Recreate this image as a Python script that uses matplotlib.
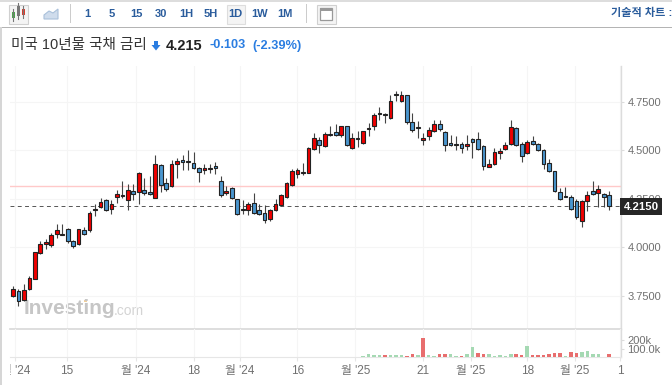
import numpy as np
import matplotlib
matplotlib.use('Agg')
import matplotlib.pyplot as plt
from matplotlib.patches import Rectangle, Polygon
from matplotlib.transforms import Bbox

plt.rcParams['font.family'] = ['Liberation Sans', 'Noto Sans CJK KR', 'DejaVu Sans']

W, H = 672, 385

# 일봉 데이터
opens = [3.747, 3.775, 3.729, 3.784, 3.835, 3.973, 4.016, 4.013, 4.068, 4.066,
         4.096, 4.034, 4.018, 4.087, 4.088, 4.192, 4.208, 4.245, 4.200, 4.259,
         4.264, 4.244, 4.292, 4.287, 4.297, 4.287, 4.256, 4.423, 4.333, 4.318,
         4.431, 4.450, 4.447, 4.436, 4.409, 4.400, 4.405, 4.421, 4.340, 4.282,
         4.305, 4.248, 4.200, 4.194, 4.228, 4.192, 4.178, 4.145, 4.194, 4.220,
         4.259, 4.323, 4.381, 4.384, 4.385, 4.509, 4.553, 4.522, 4.581, 4.597,
         4.581, 4.628, 4.514, 4.566, 4.540, 4.612, 4.628, 4.693, 4.689, 4.667,
         4.794, 4.755, 4.786, 4.648, 4.620, 4.553, 4.576, 4.603, 4.636, 4.595,
         4.540, 4.531, 4.536, 4.522, 4.560, 4.558, 4.522, 4.417, 4.428, 4.488,
         4.509, 4.535, 4.617, 4.535, 4.488, 4.548, 4.531, 4.504, 4.436, 4.392,
         4.287, 4.265, 4.259, 4.240, 4.138, 4.237, 4.292, 4.278, 4.273, 4.271]
highs = [3.801, 3.787, 3.812, 3.854, 3.978, 4.030, 4.044, 4.073, 4.118, 4.118,
         4.101, 4.039, 4.096, 4.104, 4.190, 4.225, 4.257, 4.249, 4.244, 4.297,
         4.340, 4.328, 4.328, 4.388, 4.359, 4.366, 4.479, 4.428, 4.359, 4.452,
         4.462, 4.479, 4.500, 4.490, 4.414, 4.431, 4.431, 4.440, 4.366, 4.319,
         4.310, 4.252, 4.245, 4.233, 4.279, 4.225, 4.216, 4.199, 4.252, 4.276,
         4.336, 4.405, 4.411, 4.436, 4.517, 4.591, 4.569, 4.595, 4.629, 4.638,
         4.629, 4.629, 4.589, 4.600, 4.603, 4.643, 4.695, 4.727, 4.693, 4.789,
         4.805, 4.805, 4.789, 4.693, 4.651, 4.589, 4.620, 4.659, 4.659, 4.600,
         4.581, 4.577, 4.543, 4.581, 4.564, 4.595, 4.526, 4.457, 4.514, 4.514,
         4.543, 4.660, 4.620, 4.543, 4.555, 4.574, 4.538, 4.507, 4.457, 4.395,
         4.307, 4.314, 4.268, 4.251, 4.242, 4.293, 4.345, 4.324, 4.279, 4.293]
lows = [3.742, 3.696, 3.725, 3.782, 3.834, 3.966, 3.992, 4.004, 4.049, 4.061,
        4.023, 3.994, 4.014, 4.063, 4.078, 4.163, 4.204, 4.185, 4.173, 4.231,
        4.256, 4.195, 4.242, 4.225, 4.268, 4.271, 4.254, 4.285, 4.293, 4.310,
        4.359, 4.397, 4.397, 4.405, 4.336, 4.380, 4.383, 4.380, 4.262, 4.268,
        4.251, 4.169, 4.173, 4.169, 4.173, 4.169, 4.125, 4.138, 4.185, 4.212,
        4.256, 4.319, 4.357, 4.371, 4.383, 4.505, 4.486, 4.517, 4.577, 4.577,
        4.569, 4.522, 4.509, 4.517, 4.535, 4.574, 4.607, 4.659, 4.641, 4.664,
        4.755, 4.749, 4.638, 4.595, 4.566, 4.526, 4.555, 4.598, 4.603, 4.496,
        4.521, 4.500, 4.486, 4.500, 4.462, 4.505, 4.400, 4.414, 4.424, 4.457,
        4.504, 4.529, 4.524, 4.443, 4.483, 4.526, 4.496, 4.405, 4.390, 4.287,
        4.245, 4.259, 4.194, 4.147, 4.104, 4.190, 4.268, 4.207, 4.207, 4.194]
closes = [3.784, 3.724, 3.780, 3.843, 3.975, 4.018, 4.028, 4.065, 4.087, 4.069,
          4.034, 4.008, 4.092, 4.068, 4.178, 4.200, 4.236, 4.194, 4.226, 4.273,
          4.269, 4.296, 4.276, 4.383, 4.282, 4.276, 4.428, 4.323, 4.300, 4.428,
          4.445, 4.442, 4.442, 4.411, 4.390, 4.409, 4.412, 4.412, 4.269, 4.292,
          4.256, 4.173, 4.192, 4.223, 4.178, 4.173, 4.142, 4.194, 4.225, 4.268,
          4.333, 4.392, 4.400, 4.389, 4.514, 4.562, 4.527, 4.586, 4.586, 4.579,
          4.628, 4.526, 4.567, 4.558, 4.600, 4.617, 4.681, 4.690, 4.684, 4.758,
          4.786, 4.789, 4.648, 4.605, 4.617, 4.567, 4.608, 4.639, 4.610, 4.527,
          4.527, 4.528, 4.514, 4.536, 4.545, 4.509, 4.419, 4.431, 4.490, 4.496,
          4.529, 4.620, 4.526, 4.473, 4.543, 4.531, 4.502, 4.428, 4.395, 4.292,
          4.248, 4.261, 4.197, 4.154, 4.237, 4.271, 4.273, 4.300, 4.259, 4.215]

# 거래량은 뒤쪽 46개 봉에만 있음 (단위 k)
vol_first = 64
volumes = [8, 32, 20, 20, 20, 20, 20, 20, 12, 32, 20, 232, 20, 8, 32, 32, 32, 12, 12, 32,
           120, 44, 32, 32, 16, 24, 8, 40, 40, 20, 128, 28, 20, 20, 32, 52, 44, 12, 56, 44,
           64, 72, 40, 32, 0, 40]
vol_dirs = list('ggggrgggrrgrggrrggrggrrggggg'
                'rrgrrrrrrgrrgggggr')

last_price = 4.215
prev_close = 4.318
price_ticks = [3.75, 4.0, 4.25, 4.5, 4.75]
price_labels = ['3.7500', '4.0000', '4.2500', '4.5000', '4.7500']
vol_ticks = [100, 200]
vol_labels = ['100.0k', '200k']
date_ticks = [0.4, 9.9, 22.5, 33, 41.5, 52, 62.6, 75, 83.7, 94, 102.7, 111]
date_labels = ["월 '24", '15', "월 '24", '18', "월 '24", '16', "월 '25", '21', "월 '25", '18', "월 '25", '1']
intervals = ['1', '5', '15', '30', '1H', '5H', '1D', '1W', '1M']

RED, BLUE = '#f00000', '#4a96cf'
GRID = '#f5f5f5'
LINE = '#dcdcdc'
LABEL = '#707070'
LINK = '#2a5c9c'
DOWN_TXT = '#2a7de1'


def px_axes(fig, x0, y0, x1, y1):
    """픽셀 좌표(위가 0)로 axes 생성."""
    return fig.add_axes([x0 / W, 1 - y1 / H, (x1 - x0) / W, (y1 - y0) / H])


def draw_header(bg):
    bg.add_patch(Rectangle((0, 0), W, 1.5, color='#dddddd', lw=0))
    bg.add_patch(Rectangle((0, 26.5), W, 1.2, color='#b4b4b4', lw=0))
    bg.add_patch(Rectangle((0, 27), 1.5, H - 27, color='#d6d6d6', lw=0))
    for x in (70, 306):
        bg.add_patch(Rectangle((x, 4), 1, 19, color='#cccccc', lw=0))

    # 캔들 아이콘
    bg.add_patch(Rectangle((8.5, 4.5), 19, 19, fc='#f4f4f4', ec='#d0d0d0', lw=0.8))
    for x, c, y0, y1 in [(13, '#49a84b', 12, 18), (18, '#777777', 6, 16), (23, '#d93a2b', 9, 15)]:
        bg.plot([x, x], [y0 - 3, y1 + 3], color='#777777', lw=0.8)
        bg.add_patch(Rectangle((x - 1.5, y0), 3, y1 - y0, color=c, lw=0))
    # 라인 아이콘
    bg.add_patch(Polygon([(44, 19), (44, 15), (49, 11), (53, 13), (58, 9), (58, 19)],
                         fc='#cfdcec', ec='#a9c0da', lw=0.8))
    # 레이아웃 아이콘
    bg.add_patch(Rectangle((316.5, 4.5), 19, 19, fc='#f4f4f4', ec='#d0d0d0', lw=0.8))
    bg.add_patch(Rectangle((320, 8), 12, 12, fc='#ffffff', ec='#999999', lw=0.9))
    bg.add_patch(Rectangle((320, 8), 12, 3, color='#999999', lw=0))

    # 기간 버튼
    bg.add_patch(Rectangle((226.5, 4.5), 18.5, 19, fc='#f4f4f4', ec='#dddddd', lw=0.8))
    for x, s in zip(np.linspace(87.5, 284.5, len(intervals)), intervals):
        bg.text(x, 14, s, ha='center', va='center', fontsize=8, fontweight='bold', color=LINK)
    bg.text(611, 13, '기술적 차트 :', ha='left', va='center', fontsize=8, fontweight='bold',
            color=LINK)

    # 제목 줄
    bg.text(11, 45.5, '미국 10년물 국채 금리', ha='left', va='center', fontsize=10.5, color='#333333')
    bg.add_patch(Polygon([(154, 41), (158, 41), (158, 45), (160.5, 45), (156, 50.5), (151.5, 45), (154, 45)],
                         color=DOWN_TXT, lw=0))
    bg.text(166, 45.5, '4.215', ha='left', va='center', fontsize=10.5, fontweight='bold', color='#222222')
    bg.text(209, 45.5, '-0.103', ha='left', va='center', fontsize=9.2, fontweight='bold', color=DOWN_TXT)
    bg.text(252.5, 45.5, '(-2.39%)', ha='left', va='center', fontsize=9.2, fontweight='bold', color=DOWN_TXT)

    # 워터마크
    bg.text(24, 309, 'Investing', ha='left', va='center', fontsize=15, fontweight='bold', color='#c6c6c6')
    bg.text(114, 311, '.com', ha='left', va='center', fontsize=10, color='#d4d4d4')
    bg.add_patch(Rectangle((84, 299.5), 2.5, 2, color='#f3cf9a', lw=0))


def draw_candles(ax):
    x = np.arange(len(closes))
    o, h, l, c = map(np.array, (opens, highs, lows, closes))
    ax.vlines(x, l, h, color='#444444', lw=0.8, zorder=3)
    colors = [RED if cc >= oo else BLUE for oo, cc in zip(o, c)]
    ax.bar(x, np.abs(c - o), bottom=np.minimum(o, c), width=0.68, color=colors,
           edgecolor='#222222', linewidth=0.8, zorder=4)


def style_pane(ax):
    for s in ('top', 'left', 'bottom'):
        ax.spines[s].set_visible(False)
    ax.spines['right'].set_color(LINE)
    ax.spines['right'].set_linewidth(1)
    ax.yaxis.tick_right()
    ax.tick_params(axis='y', length=2.5, width=0.8, color=LINE, labelcolor=LABEL, labelsize=8, pad=2)
    ax.set_facecolor('none')


def main():
    fig = plt.figure(figsize=(W / 100, H / 100), dpi=100)

    bg = fig.add_axes([0, 0, 1, 1])
    bg.set_xlim(0, W)
    bg.set_ylim(H, 0)
    bg.axis('off')
    draw_header(bg)

    # x축: 봉 간격 5.47px, 첫 봉 x=13px
    xlim = ((10 - 13) / 5.47, (621 - 13) / 5.47)

    ax = px_axes(fig, 10, 66, 621, 329)
    ax.set_xlim(*xlim)
    ax.set_ylim(4.5 - 178.5 * 0.005165, 4.5 + 84.5 * 0.005165)
    style_pane(ax)
    ax.set_yticks(price_ticks)
    ax.set_yticklabels(price_labels)
    ax.set_xticks(date_ticks)
    ax.tick_params(axis='x', length=0, labelbottom=False)
    ax.grid(True, color=GRID, lw=0.8)
    ax.set_axisbelow(True)
    ax.spines['bottom'].set_visible(True)
    ax.spines['bottom'].set_color('#d8d8d8')
    ax.spines['bottom'].set_linewidth(1.2)

    ax.axhline(prev_close, color='#ffc9c9', lw=1, zorder=2)
    ax.axhline(last_price, color='#555555', lw=0.7, dashes=(4, 3.5), zorder=2)
    draw_candles(ax)
    ax.annotate(f'{last_price:.4f}', xy=(1, last_price), xycoords=ax.get_yaxis_transform(),
                xytext=(20, -1), textcoords='offset pixels', ha='center', va='center', fontsize=8.2,
                fontweight='bold', color='white', annotation_clip=False, zorder=10,
                bbox=dict(boxstyle='square,pad=0.3', fc='#262626', ec='#262626', lw=0))

    vol_ax = px_axes(fig, 10, 329, 621, 357)
    vol_ax.set_xlim(*xlim)
    vol_ax.set_ylim(0, 336)
    style_pane(vol_ax)
    vol_x = np.arange(vol_first, vol_first + len(volumes))
    vol_colors = ['#e86e6e' if d == 'r' else '#a5d9b3' for d in vol_dirs]
    vol_ax.bar(vol_x, volumes, width=0.65, color=vol_colors, lw=0, zorder=3)
    vol_ax.set_yticks(vol_ticks)
    vol_ax.set_yticklabels(vol_labels)
    vol_ax.spines['bottom'].set_visible(True)
    vol_ax.spines['bottom'].set_color('#e6e6e6')
    vol_ax.set_xticks(date_ticks)
    vol_ax.set_xticklabels(date_labels)
    vol_ax.grid(True, axis='x', color=GRID, lw=0.8)
    vol_ax.set_axisbelow(True)
    vol_ax.tick_params(axis='x', length=3, width=0.8, color='#e6e6e6', labelcolor=LABEL,
                       labelsize=8.5, pad=3)

    # 왼쪽 끝 라벨은 축 경계에서 잘림
    first = vol_ax.get_xticklabels()[0]
    first.set_clip_on(True)
    first.set_clip_box(Bbox([[10, 0], [W, H]]))

    fig.savefig('out.png', dpi=100)
    plt.close(fig)


if __name__ == '__main__':
    main()
